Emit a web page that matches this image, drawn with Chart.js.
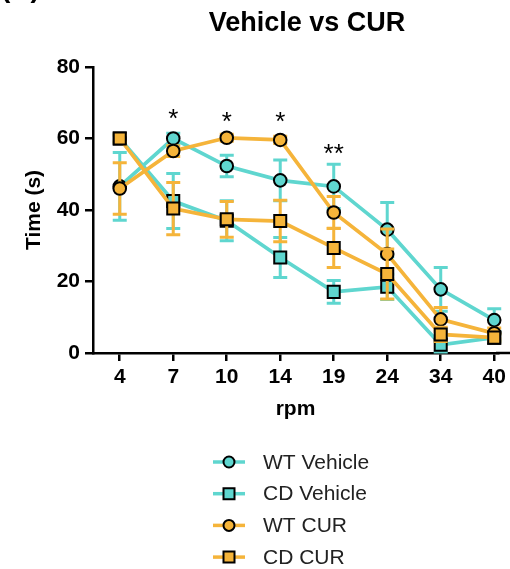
<!DOCTYPE html>
<html>
<head>
<meta charset="utf-8">
<title>Vehicle vs CUR</title>
<script src="https://cdn.jsdelivr.net/npm/chart.js@4.4.1/dist/chart.umd.min.js"></script>
<style>
  html, body { margin: 0; padding: 0; background: #fff; }
  #wrap { width: 510px; height: 569px; position: relative; }
</style>
</head>
<body>
<div id="wrap"><canvas id="grafico"></canvas></div>
<script>
// ===================== DATA =====================
const rpmLabels = ["4", "7", "10", "14", "19", "24", "34", "40"];
const yTicks = [0, 20, 40, 60, 80];

const wtVehicle = [46.6, 60.0, 52.3, 48.3, 46.6, 34.5, 17.8, 9.2];
const wtVehicleErr = [9.5, 1.5, 3.0, 5.7, 6.2, 7.6, 6.1, 3.2];

const cdVehicle = [60.0, 42.5, 37.0, 26.7, 17.1, 18.5, 2.3, 4.3];
const cdVehicleErr = [1.0, 7.7, 5.6, 5.6, 3.2, 3.5, 2.0, 1.0];

const wtCur = [46.0, 56.5, 60.2, 59.6, 39.3, 27.7, 9.4, 5.5];
const wtCurErr = [7.2, 1.5, 1.0, 1.0, 4.5, 7.0, 3.3, 1.5];

const cdCur = [60.0, 40.4, 37.4, 36.9, 29.4, 22.1, 5.2, 4.3];
const cdCurErr = [1.0, 7.3, 5.0, 5.8, 5.5, 7.0, 2.0, 1.0];

// significance marks and the value (s) where each one sits
const sigMarks = ["", "*", "*", "*", "**", "", "", ""];
const sigLevel = [null, 67.4, 66.3, 66.3, 57.5, null, null, null];

const TEAL = "#5fd6cf";
const ORANGE = "#f5b43a";
const FONT = "'Liberation Sans', Arial, sans-serif";

function pontos(valores) {
  return valores.map((v, i) => ({ x: i, y: v }));
}

function serie(label, valores, erros, cor, forma, ordem) {
  return {
    label: label,
    data: pontos(valores),
    errors: erros,
    borderColor: cor,
    backgroundColor: cor,
    borderWidth: 3.7,
    pointStyle: forma,
    pointRadius: forma === "rect" ? 8.5 : 6.3,
    pointBorderColor: "#000",
    pointBackgroundColor: cor,
    pointBorderWidth: 2,
    tension: 0,
    order: ordem,
    clip: false
  };
}

// ===================== PLUGINS =====================
const barrasErro = {
  id: "barrasErro",
  beforeDatasetDraw(chart, args) {
    const ds = chart.data.datasets[args.index];
    if (!ds.errors) return;
    const { ctx, scales } = chart;
    ctx.save();
    ctx.strokeStyle = ds.borderColor;
    ctx.lineWidth = 3;
    ds.data.forEach((p, i) => {
      const e = ds.errors[i];
      const x = scales.x.getPixelForValue(p.x);
      const yTop = scales.y.getPixelForValue(p.y + e);
      const yBot = scales.y.getPixelForValue(p.y - e);
      ctx.beginPath();
      ctx.moveTo(x, yTop);
      ctx.lineTo(x, yBot);
      ctx.moveTo(x - 7, yTop);
      ctx.lineTo(x + 7, yTop);
      ctx.moveTo(x - 7, yBot);
      ctx.lineTo(x + 7, yBot);
      ctx.stroke();
    });
    ctx.restore();
  }
};

// eixo x se estende ate a borda, como no original
const eixoLongo = {
  id: "eixoLongo",
  beforeDatasetsDraw(chart) {
    const { ctx, chartArea } = chart;
    ctx.save();
    ctx.strokeStyle = "#000";
    ctx.lineWidth = 2.5;
    ctx.beginPath();
    ctx.moveTo(chartArea.right - 2, chartArea.bottom);
    ctx.lineTo(chart.width, chartArea.bottom);
    ctx.stroke();
    ctx.restore();
  }
};

const textos = {
  id: "textos",
  afterDraw(chart) {
    const { ctx, scales } = chart;
    ctx.save();
    ctx.fillStyle = "#000";

    // painel cortado no topo
    ctx.font = "bold 28px " + FONT;
    ctx.textAlign = "left";
    ctx.textBaseline = "alphabetic";
    ctx.fillText("(B)", 1, -3);

    // titulo
    ctx.font = "bold 27px " + FONT;
    ctx.textAlign = "center";
    ctx.textBaseline = "middle";
    ctx.fillText("Vehicle vs CUR", 307, 24);

    // asteriscos
    ctx.font = "26px " + FONT;
    ctx.textBaseline = "alphabetic";
    sigMarks.forEach((m, i) => {
      if (!m) return;
      const x = scales.x.getPixelForValue(i);
      const y = scales.y.getPixelForValue(sigLevel[i]);
      ctx.fillText(m, x, y + 14.5);
    });

    // legenda
    const leg = [0, 1, 2, 3];
    ctx.font = "21px " + FONT;
    ctx.textAlign = "left";
    ctx.textBaseline = "middle";
    leg.forEach((idx, k) => {
      const ds = chart.data.datasets[idx];
      const y = 462 + k * 31.7;
      ctx.strokeStyle = ds.borderColor;
      ctx.lineWidth = 3.5;
      ctx.beginPath();
      ctx.moveTo(213, y);
      ctx.lineTo(245, y);
      ctx.stroke();
      ctx.fillStyle = ds.pointBackgroundColor;
      ctx.strokeStyle = "#000";
      ctx.lineWidth = 2;
      ctx.beginPath();
      if (ds.pointStyle === "rect") {
        ctx.rect(229 - 5.5, y - 5.5, 11, 11);
      } else {
        ctx.arc(229, y, 5.5, 0, Math.PI * 2);
      }
      ctx.fill();
      ctx.stroke();
      ctx.fillStyle = "#222";
      ctx.fillText(ds.label, 263, y + 1);
    });
    ctx.restore();
  }
};

// ===================== GRÁFICO =====================
new Chart(document.getElementById("grafico"), {
  type: "line",
  data: {
    datasets: [
      serie("WT Vehicle", wtVehicle, wtVehicleErr, TEAL, "circle", 4),
      serie("CD Vehicle", cdVehicle, cdVehicleErr, TEAL, "rect", 3),
      serie("WT CUR", wtCur, wtCurErr, ORANGE, "circle", 2),
      serie("CD CUR", cdCur, cdCurErr, ORANGE, "rect", 1)
    ]
  },
  options: {
    responsive: true,
    maintainAspectRatio: false,
    animation: false,
    layout: { padding: { top: 67, right: 0, bottom: 143, left: 0 } },
    plugins: {
      legend: { display: false },
      title: { display: false },
      tooltip: { enabled: false }
    },
    scales: {
      x: {
        type: "linear",
        min: -0.5,
        max: 7.07,
        afterBuildTicks(scale) {
          scale.ticks = rpmLabels.map((_, i) => ({ value: i }));
        },
        afterFit(scale) { scale.height = 73; },
        ticks: {
          callback: (v) => rpmLabels[v],
          color: "#000",
          font: { family: FONT, size: 21, weight: "bold" },
          padding: 4,
          maxRotation: 0,
          autoSkip: false
        },
        grid: {
          display: true,
          drawOnChartArea: false,
          drawTicks: true,
          tickLength: 8,
          color: "#000",
          lineWidth: 2.5
        },
        border: { display: true, color: "#000", width: 2.5 },
        title: {
          display: true,
          text: "rpm",
          color: "#000",
          font: { family: FONT, size: 21, weight: "bold" },
          padding: { top: 4, bottom: 4 }
        }
      },
      y: {
        min: 0,
        max: 80,
        afterBuildTicks(scale) {
          scale.ticks = yTicks.map((v) => ({ value: v }));
        },
        afterFit(scale) { scale.width = 93; },
        ticks: {
          color: "#000",
          font: { family: FONT, size: 21, weight: "bold" },
          padding: 5
        },
        grid: {
          display: true,
          drawOnChartArea: false,
          drawTicks: true,
          tickLength: 8,
          color: "#000",
          lineWidth: 2.5
        },
        border: { display: true, color: "#000", width: 2.5 },
        title: {
          display: true,
          text: "Time (s)",
          color: "#000",
          font: { family: FONT, size: 21, weight: "bold" },
          padding: { top: 22, bottom: 4 }
        }
      }
    }
  },
  plugins: [barrasErro, eixoLongo, textos]
});
</script>
</body>
</html>
